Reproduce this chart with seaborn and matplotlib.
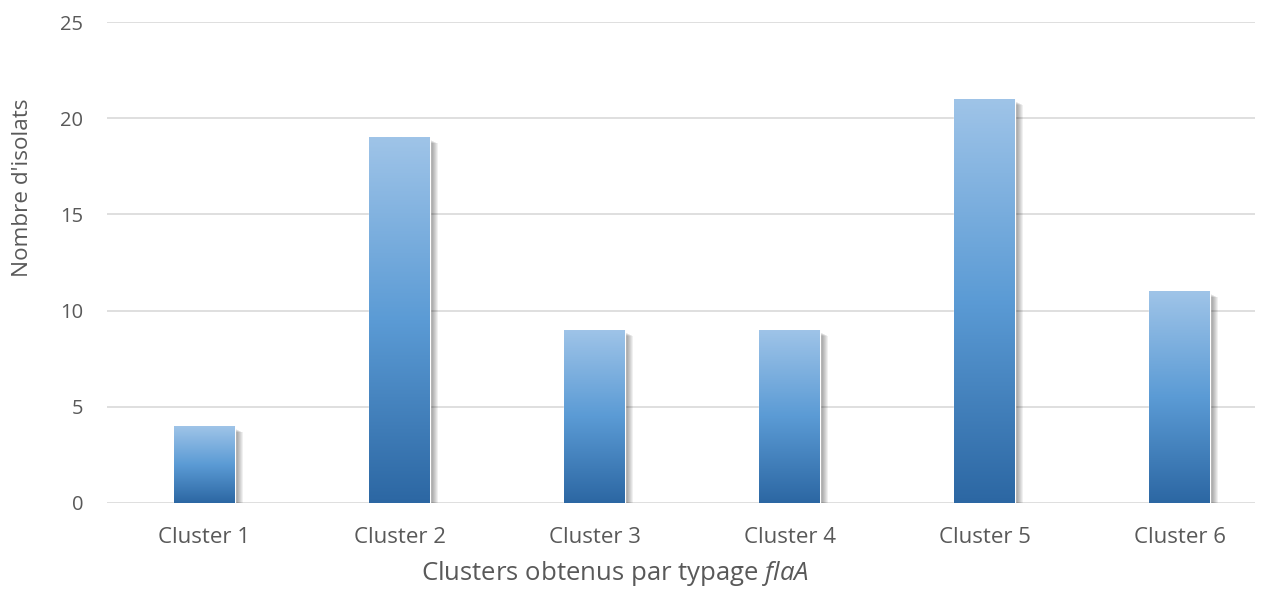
import numpy as np
import pandas as pd
import matplotlib.pyplot as plt
import seaborn as sns
from matplotlib.colors import LinearSegmentedColormap
from matplotlib.patches import Rectangle

clusters = ["Cluster 1", "Cluster 2", "Cluster 3", "Cluster 4", "Cluster 5", "Cluster 6"]
isolats = [4, 19, 9, 9, 21, 11]
yticks = [0, 5, 10, 15, 20, 25]

df = pd.DataFrame({"cluster": clusters, "n": isolats})

sns.set_style("white")
plt.rcParams["font.family"] = ["Open Sans", "DejaVu Sans"]
plt.rcParams["mathtext.fontset"] = "custom"
plt.rcParams["mathtext.rm"] = "Open Sans"
plt.rcParams["mathtext.it"] = "Open Sans:italic"

text_col = "#595959"
grid_col = "#d9d9d9"

fig = plt.figure(figsize=(12.65, 5.91), dpi=100)
W, H = 1265, 591
ax = fig.add_axes([107 / W, (591 - 503) / H, (1255 - 107) / W, (503 - 22) / H])

sns.barplot(data=df, x="cluster", y="n", color="#5b9bd5", width=0.31, ax=ax, zorder=3)

ax.set_ylim(0, 25)
xmax = 5.5 - (1277 - 1255) / 195
ax.set_xlim(-0.5, xmax)

# gradient fill + soft drop shadow
grad = LinearSegmentedColormap.from_list("g", ["#2c67a3", "#5b9bd5", "#9fc4e8"])
gimg = np.linspace(0, 1, 256).reshape(-1, 1)
px_x = (xmax + 0.5) / (1255 - 107)
px_y = 25 / (503 - 22)
for p in ax.patches:
    x0, y0 = p.get_x(), p.get_y()
    w, h = p.get_width(), p.get_height()
    for k in range(1, 9):
        ax.add_patch(Rectangle((x0 + k * px_x, y0 - k * 0.5 * px_y), w, h - 2 * px_y,
                               facecolor="#000000", alpha=0.06, lw=0, zorder=2))
    im = ax.imshow(gimg, cmap=grad, origin="lower", aspect="auto",
                   extent=[x0, x0 + w, y0, y0 + h], zorder=4)
    im.set_clip_path(p)

ax.set_xlim(-0.5, xmax)
ax.set_ylim(0, 25)

ax.set_yticks(yticks)
ax.yaxis.grid(True, color=grid_col, lw=1.2, zorder=0)
ax.set_axisbelow(True)
for s in ax.spines.values():
    s.set_visible(False)
ax.tick_params(axis="both", length=0, colors=text_col)
ax.tick_params(axis="y", pad=17, labelsize=14.5)
ax.tick_params(axis="x", pad=17, labelsize=16)
ax.set_xlabel("")
ax.set_ylabel("")

fig.text(23 / W, 1 - 188 / H, "Nombre d'isolats", rotation=90, ha="center", va="center",
         fontsize=16.2, color=text_col)
fig.text(615 / W, 1 - 574 / H, "Clusters obtenus par typage $flaA$", ha="center", va="center",
         fontsize=18.5, color=text_col)

fig.savefig("out.png", dpi=100)
